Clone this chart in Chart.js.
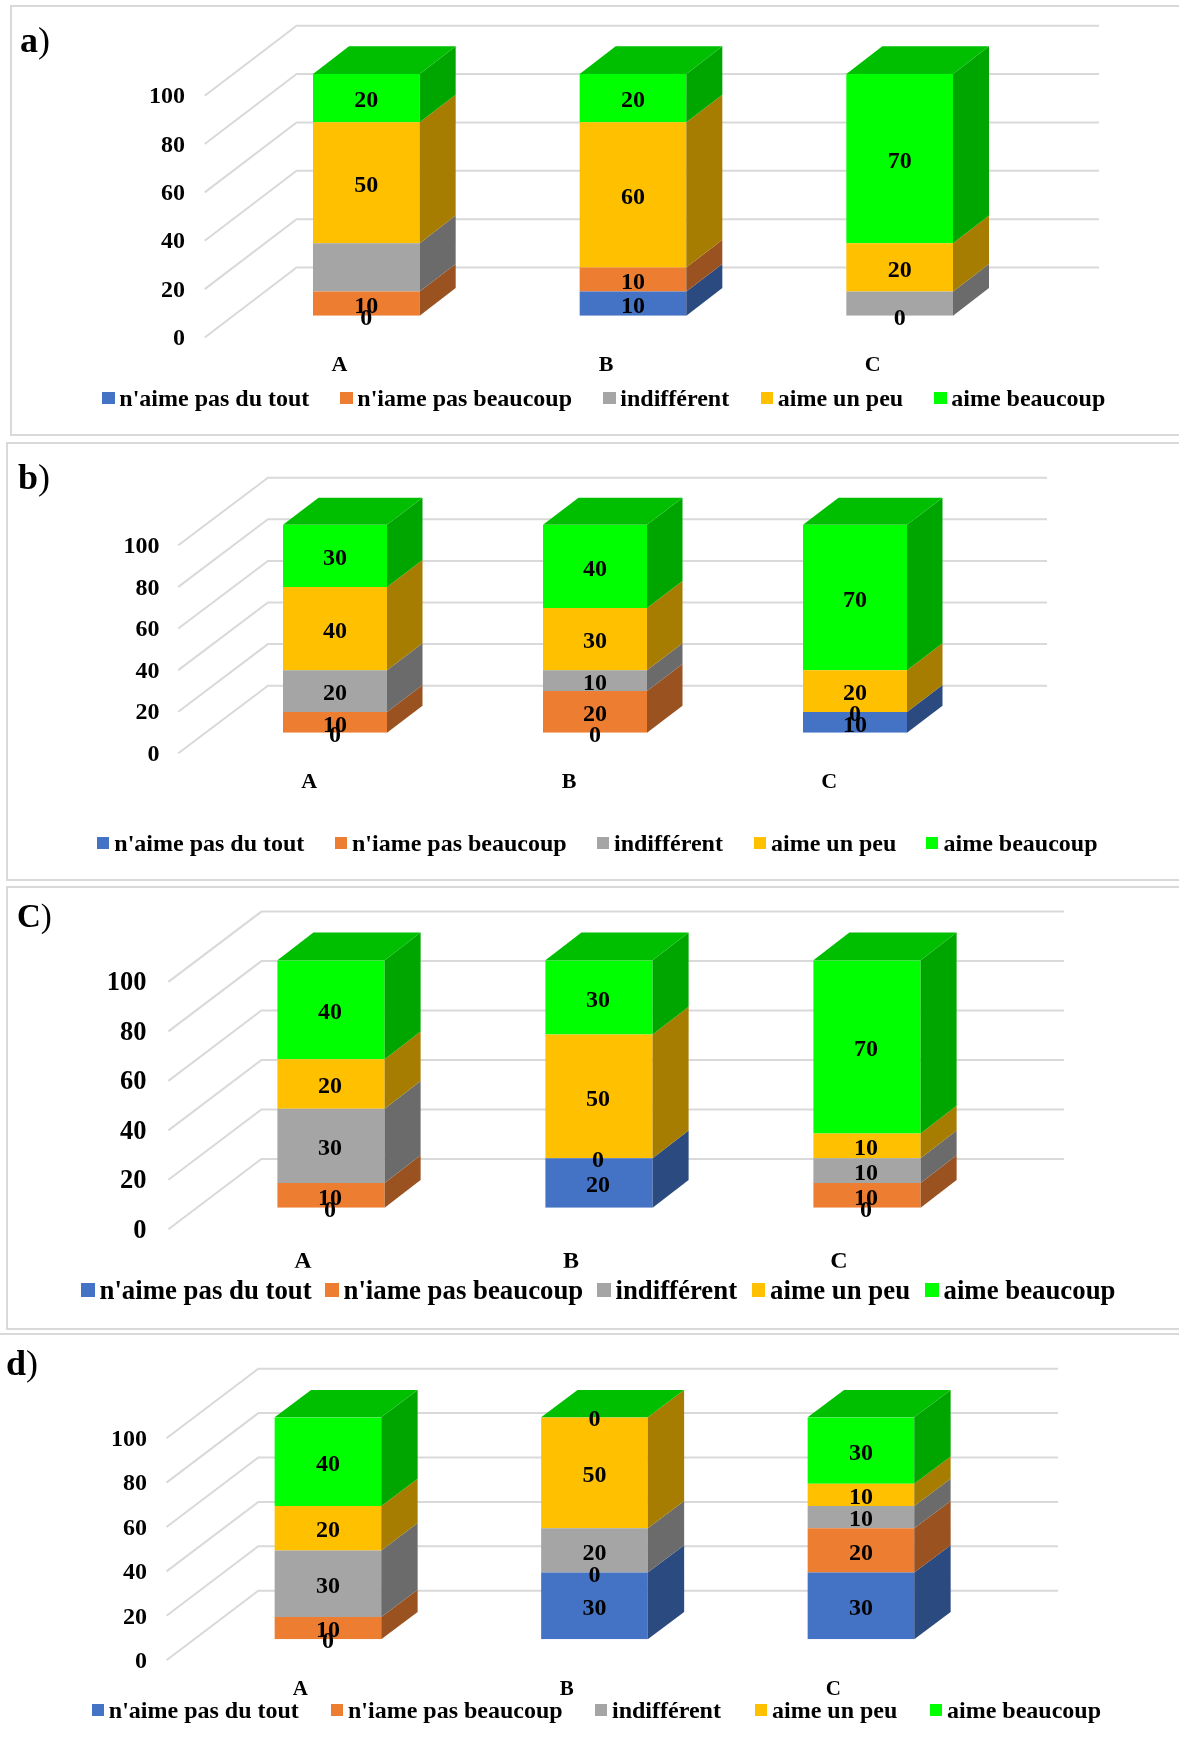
<!DOCTYPE html>
<html>
<head>
<meta charset="utf-8">
<title>a) b) C) d)</title>
<script src="https://cdn.jsdelivr.net/npm/chart.js@4/dist/chart.umd.js"></script>
<style>
    html, body { margin: 0; padding: 0; background: #fff; }
    #page { position: relative; width: 1179px; height: 1740px; overflow: hidden; font-family: "Liberation Serif", serif; font-weight: bold; color: #000; }
    canvas { position: absolute; left: 0; }
    .frame { position: absolute; border: 2px solid #d9d9d9; box-sizing: border-box; }
    .tag { position: absolute; line-height: 1; white-space: nowrap; }
    .tag span { font-weight: normal; }
    .swatch { position: absolute; }
    .item { position: absolute; line-height: 1; white-space: nowrap; transform: translateY(-50%); }
</style>
</head>
<body>
<div id="page"></div>
<script>
const categories = ['A', 'B', 'C'];
const seriesNames = ["n'aime pas du tout", "n'iame pas beaucoup", 'indifférent', 'aime un peu', 'aime beaucoup'];
const tickValues = [0, 20, 40, 60, 80, 100];

// one row per series, one column per category
const valuesA = [[0, 10, 0], [10, 10, 0], [20, 0, 10], [50, 60, 20], [20, 20, 70]];
const valuesB = [[0, 0, 10], [10, 20, 0], [20, 10, 0], [40, 30, 20], [30, 40, 70]];
const valuesC = [[0, 20, 0], [10, 0, 10], [30, 0, 10], [20, 50, 10], [40, 30, 70]];
const valuesD = [[0, 30, 30], [10, 0, 20], [30, 20, 10], [20, 50, 10], [40, 0, 30]];

// [series, category] of the values that carry no printed label
const unlabeledA = [[2, 0], [2, 1], [1, 2], [2, 2]];
const unlabeledB = [[2, 2]];
const unlabeledC = [[2, 1]];
const unlabeledD = [];

const frontColors = ['#4472C4', '#ED7D31', '#A5A5A5', '#FFC000', '#00FF00'];
const sideColors = ['#2B4A80', '#9A5220', '#6B6B6B', '#A67D00', '#00A600'];
const topColor = '#00BF00';
const gridColor = '#D9D9D9';
const fontFamily = '"Liberation Serif", serif';

const panels = [
    { tag: 'a', values: valuesA, unlabeled: unlabeledA, top: 0, height: 440,
      areaLeft: 233, areaRight: 1033, yTop: 74, yBottom: 315.8, barPct: 0.4,
      wallX: 296.6, wallRight: 1099, wallDy: 48.3, edgeX: 204.7, edgeDy: 21.7, depthX: 36, depthY: 27.7,
      tickRight: 185, tickSize: 24, catSize: 22, catDx: -27, catY: 365,
      legendY: 398, legendSize: 24, box: 12.5, boxGap: 17.3, legendX: [102, 340, 603, 760.5, 934],
      tagX: 20, tagY: 22, tagSize: 36, labelDx: 0 },
    { tag: 'b', values: valuesB, unlabeled: unlabeledB, top: 441, height: 445,
      areaLeft: 205, areaRight: 985, yTop: 524.7, yBottom: 732.7, barPct: 0.4,
      wallX: 267.9, wallRight: 1047, wallDy: 47, edgeX: 178.3, edgeDy: 20.6, depthX: 35.5, depthY: 27,
      tickRight: 159.6, tickSize: 24, catSize: 22, catDx: -25.8, catY: 782.6,
      legendY: 843, legendSize: 24, box: 12.2, boxGap: 17.5, legendX: [96.8, 334.5, 596.5, 753.5, 926],
      tagX: 18, tagY: 459, tagSize: 36, labelDx: 0 },
    { tag: 'C', values: valuesC, unlabeled: unlabeledC, top: 885, height: 445,
      areaLeft: 197, areaRight: 1001, yTop: 960.3, yBottom: 1207.7, barPct: 0.4,
      wallX: 261.4, wallRight: 1064, wallDy: 48.7, edgeX: 168.4, edgeDy: 21.6, depthX: 36, depthY: 27.7,
      tickRight: 146.6, tickSize: 26.5, catSize: 24, catDx: -28, catY: 1261.7,
      legendY: 1290, legendSize: 26.8, box: 13.8, boxGap: 18.5, legendX: [81, 325, 597, 751.6, 925],
      tagX: 17, tagY: 900, tagSize: 33, labelDx: -1 },
    { tag: 'd', values: valuesD, unlabeled: unlabeledD, top: 1330, height: 410,
      areaLeft: 194.7, areaRight: 994.2, yTop: 1417.2, yBottom: 1639.2, barPct: 0.4,
      wallX: 258.3, wallRight: 1058, wallDy: 48.5, edgeX: 166.5, edgeDy: 21, depthX: 36.4, depthY: 27.3,
      tickRight: 147, tickSize: 24, catSize: 21, catDx: -27.7, catY: 1689.3,
      legendY: 1709.7, legendSize: 24, box: 12.2, boxGap: 17, legendX: [91.8, 331, 595, 755, 930],
      tagX: 6, tagY: 1345, tagSize: 36, labelDx: 0 }
];

const frames = [
    { left: 10, top: 5, width: 1200, height: 431 },
    { left: 6, top: 442, width: 1200, height: 439 },
    { left: 6, top: 886, width: 1200, height: 444 },
    { left: -10, top: 1333, width: 1200, height: 420 }
];

const page = document.getElementById('page');

frames.forEach(function (f) {
    const el = document.createElement('div');
    el.className = 'frame';
    el.style.cssText = `left:${f.left}px;top:${f.top}px;width:${f.width}px;height:${f.height}px`;
    page.appendChild(el);
});

// walls and floor lines of the fake 3D box, behind the bars
const boxGrid = {
    id: 'boxGrid',
    beforeDatasetsDraw(chart, args, opts) {
        const p = opts.panel;
        const ctx = chart.ctx;
        const y = chart.scales.y;
        ctx.save();
        ctx.strokeStyle = gridColor;
        ctx.lineWidth = 2;
        y.ticks.forEach(function (t) {
            const py = y.getPixelForValue(t.value);
            ctx.beginPath();
            ctx.moveTo(p.edgeX, py + p.edgeDy);
            ctx.lineTo(p.wallX, py - p.wallDy);
            ctx.lineTo(p.wallRight, py - p.wallDy);
            ctx.stroke();
        });
        ctx.restore();
    }
};

// side and top faces of each stack, then the value labels
const boxFaces = {
    id: 'boxFaces',
    afterDatasetsDraw(chart, args, opts) {
        const p = opts.panel;
        const ctx = chart.ctx;
        const dx = p.depthX;
        const dy = p.depthY;
        const count = chart.data.datasets.length;
        ctx.save();
        for (let s = 0; s < count; s++) {
            chart.getDatasetMeta(s).data.forEach(function (bar) {
                const right = bar.x + bar.width / 2;
                ctx.fillStyle = sideColors[s];
                ctx.beginPath();
                ctx.moveTo(right, bar.y);
                ctx.lineTo(right + dx, bar.y - dy);
                ctx.lineTo(right + dx, bar.base - dy);
                ctx.lineTo(right, bar.base);
                ctx.closePath();
                ctx.fill();
            });
        }
        chart.getDatasetMeta(count - 1).data.forEach(function (bar) {
            const left = bar.x - bar.width / 2;
            const right = bar.x + bar.width / 2;
            ctx.fillStyle = topColor;
            ctx.beginPath();
            ctx.moveTo(left, bar.y);
            ctx.lineTo(left + dx, bar.y - dy);
            ctx.lineTo(right + dx, bar.y - dy);
            ctx.lineTo(right, bar.y);
            ctx.closePath();
            ctx.fill();
        });
        ctx.fillStyle = '#000';
        ctx.font = `bold 24px ${fontFamily}`;
        ctx.textAlign = 'center';
        ctx.textBaseline = 'middle';
        for (let s = 0; s < count; s++) {
            chart.getDatasetMeta(s).data.forEach(function (bar, c) {
                if (p.unlabeled.some(u => u[0] === s && u[1] === c)) return;
                const value = chart.data.datasets[s].data[c];
                ctx.fillText(String(value), bar.x + p.labelDx, (bar.y + bar.base) / 2 + 3);
            });
        }
        ctx.restore();
    }
};

function initPanel(p) {
    const canvas = document.createElement('canvas');
    canvas.width = 1179;
    canvas.height = p.height;
    canvas.style.top = p.top + 'px';
    page.appendChild(canvas);

    const font = size => ({ family: fontFamily, size: size, weight: 'bold', lineHeight: 1 });
    const xAxisHeight = 60;

    new Chart(canvas.getContext('2d'), {
        type: 'bar',
        data: {
            labels: categories,
            datasets: seriesNames.map(function (name, s) {
                return {
                    label: name,
                    data: p.values[s],
                    backgroundColor: frontColors[s],
                    barPercentage: p.barPct,
                    categoryPercentage: 1,
                    borderWidth: 0
                };
            })
        },
        options: {
            responsive: false,
            animation: false,
            layout: {
                padding: {
                    left: 0,
                    right: 1179 - p.areaRight,
                    top: p.yTop - p.top,
                    bottom: p.top + p.height - p.yBottom - xAxisHeight
                }
            },
            scales: {
                x: {
                    stacked: true,
                    grid: { display: false, drawTicks: false },
                    border: { display: false },
                    afterFit: function (axis) { axis.height = xAxisHeight; },
                    ticks: {
                        color: '#000',
                        font: font(p.catSize),
                        maxRotation: 0,
                        autoSkip: false,
                        labelOffset: p.catDx,
                        padding: p.catY - p.yBottom - p.catSize / 2
                    }
                },
                y: {
                    stacked: true,
                    min: 0,
                    max: 100,
                    grid: { display: false, drawTicks: false },
                    border: { display: false },
                    afterFit: function (axis) { axis.width = p.areaLeft; },
                    afterBuildTicks: function (axis) { axis.ticks = tickValues.map(v => ({ value: v })); },
                    ticks: {
                        color: '#000',
                        font: font(p.tickSize),
                        labelOffset: p.edgeDy + 1.5,
                        padding: p.areaLeft - p.tickRight
                    }
                }
            },
            plugins: {
                legend: { display: false },
                tooltip: { enabled: false },
                boxGrid: { panel: p },
                boxFaces: { panel: p }
            }
        },
        plugins: [boxGrid, boxFaces]
    });

    // legend and panel letter are plain html
    seriesNames.forEach(function (name, s) {
        const x = p.legendX[s];
        const box = document.createElement('div');
        box.className = 'swatch';
        box.style.cssText = `left:${x}px;top:${p.legendY - p.box / 2}px;width:${p.box}px;height:${p.box}px;background:${frontColors[s]}`;
        page.appendChild(box);
        const label = document.createElement('div');
        label.className = 'item';
        label.style.cssText = `left:${x + p.boxGap}px;top:${p.legendY}px;font-size:${p.legendSize}px`;
        label.textContent = name;
        page.appendChild(label);
    });

    const tag = document.createElement('div');
    tag.className = 'tag';
    tag.style.cssText = `left:${p.tagX}px;top:${p.tagY}px;font-size:${p.tagSize}px`;
    tag.innerHTML = `${p.tag}<span>)</span>`;
    page.appendChild(tag);
}

panels.forEach(initPanel);
</script>
</body>
</html>
